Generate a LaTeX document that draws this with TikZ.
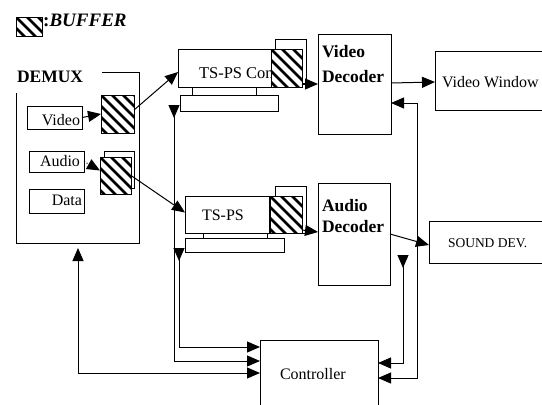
\documentclass[tikz,border=0pt]{standalone}
\usepackage{fontspec}
\setmainfont{Liberation Serif}
\usetikzlibrary{calc,arrows.meta}
\tikzset{
  box/.style={draw, line width=1pt, inner sep=0pt, outer sep=0pt, anchor=north west, fill=white},
  hatch/.style={box, path picture={
      \foreach \k in {-66,-55,...,44}
        \draw[line width=2.6pt] ([xshift=\k pt]path picture bounding box.north west)
          -- ([xshift=\k pt+80pt, yshift=-80pt]path picture bounding box.north west);}},
  tri/.tip={Triangle[length=13pt,width=11pt]},
  conn/.style={line width=1pt},
  arr/.style={conn, -tri},
  lbl/.style={inner sep=0pt, outer sep=0pt, anchor=base west, font=\fontsize{16}{18}\selectfont},
  lblr/.style={lbl, anchor=base east},
  title/.style={inner sep=0pt, outer sep=0pt, anchor=base west, font=\bfseries\fontsize{17.5}{20}\selectfont},
}
\begin{document}
\begin{tikzpicture}[x=1pt,y=-1pt]
\useasboundingbox (0,0) rectangle (542,405);

% legend
\node[hatch, minimum width=26pt, minimum height=19pt] (leg) at (16,17) {};
\node[inner sep=0pt, anchor=base west, font=\bfseries\fontsize{19}{22}\selectfont] (legl) at (43,26) {:\itshape BUFFER};

% DEMUX
\node[inner sep=0pt, outer sep=0pt, anchor=north west, minimum width=123pt, minimum height=171pt] (demux) at (16,72) {};
\draw[conn] ($(demux.north west)+(86,0)$) -- (demux.north east) -- (demux.south east) -- (demux.south west) -- ($(demux.north west)+(0,21)$);
\node[title] (demuxl) at (17,82) {DEMUX};

\node[box, minimum width=55pt, minimum height=23pt] (vidin) at (27,106) {};
\node[lblr] (vidinl) at (80,125) {Video};
\node[hatch, minimum width=33pt, minimum height=38pt] (vbuf) at (101,95) {};

\node[box, minimum width=55pt, minimum height=21pt] (audin) at (29,151) {};
\node[lblr] (audinl) at (80,166) {Audio};
\node[box, minimum width=30pt, minimum height=37pt] (abufb) at (104,151) {};
\node[hatch, minimum width=31pt, minimum height=37pt] (abuf) at (100,157) {};

\node[box, minimum width=55pt, minimum height=24pt] (data) at (29,189) {};
\node[lblr] (datal) at (82,205) {Data};

% video TS-PS converter
\node[box, minimum width=93pt, minimum height=38pt] (vts) at (178,49) {};
\node[lbl, font=\fontsize{16.5}{18}\selectfont] (vtsl) at (199,78) {TS-PS Con};
\node[box, minimum width=31pt, minimum height=44pt] (vtsbb) at (275,39) {};
\node[hatch, minimum width=31pt, minimum height=38pt] (vtsb) at (271,49) {};
\node[box, minimum width=98pt, minimum height=16pt] (vbar) at (180,95) {};
\draw[conn] ($(vts.south west)+(14,0)$) -- ($(vbar.north west)+(12,0)$);
\draw[conn] ($(vts.south west)+(78,0)$) -- ($(vbar.north west)+(76,0)$);

% video decoder
\node[box, minimum width=73pt, minimum height=100pt] (vdec) at (318,34) {};
\node[title] (vdecl1) at (322,57) {Video};
\node[title] (vdecl2) at (322,82) {Decoder};

\node[box, minimum width=130pt, minimum height=59pt] (vwin) at (435,51) {};
\node[lbl] (vwinl) at (442,87) {Video Window};

% audio TS-PS converter
\node[box, minimum width=84pt, minimum height=37pt] (ats) at (185,196) {};
\node[lbl] (atsl) at (202,220) {TS-PS};
\node[box, minimum width=31pt, minimum height=47pt] (atsbb) at (275,186) {};
\node[hatch, minimum width=32pt, minimum height=37pt] (atsb) at (270,196) {};
\node[box, minimum width=99pt, minimum height=14pt] (abar) at (185,238) {};
\draw[conn] ($(ats.south west)+(18,0)$) -- ($(abar.north west)+(18,0)$);
\draw[conn] ($(ats.south west)+(82,0)$) -- ($(abar.north west)+(82,0)$);

% audio decoder
\node[box, minimum width=72pt, minimum height=102pt] (adec) at (318,183) {};
\node[title] (adecl1) at (322,211) {Audio};
\node[title] (adecl2) at (322,232) {Decoder};

\node[box, minimum width=130pt, minimum height=42pt] (sound) at (429,221) {};
\node[lbl, font=\fontsize{13.5}{16}\selectfont] (soundl) at (448,247) {SOUND DEV.};

% controller
\node[box, minimum width=118pt, minimum height=80pt] (ctrl) at (260,340) {};
\node[lbl] (ctrll) at (280,379) {Controller};

% connectors
\draw[arr] (vidin.east) -- (vbuf.west);
\draw[arr, dotted] (audin.east) -- ($(abuf.west)+(0,-5)$);
\draw[arr] ($(vbuf.east)+(0,-4)$) -- ($(vts.west)+(0,4)$);
\draw[arr] (abuf.east) -- ($(ats.west)+(0,-2)$);
\draw[arr] ($(vtsb.south east)+(0,-3)$) -- ($(vdec.north west)+(0,50)$);
\draw[arr] ($(atsb.south east)+(0,-3)$) -- ($(adec.north west)+(0,49)$);
\draw[arr] ($(vdec.north east)+(0,49)$) -- ($(vwin.north west)+(0,31)$);
\draw[arr] (adec.east) -- ($(sound.north west)+(0,24)$);

\draw[conn, tri-tri] ($(vdec.north east)+(0,69)$) -- ++(26,0) |- ($(ctrl.north east)+(0,38)$);
\coordinate (ar) at ($(adec.north east)+(13,72)$);
\draw[conn, {tri[reversed]}-tri] (ar) |- ($(ctrl.north east)+(0,23)$);

\coordinate (vl) at ($(vbar.south west)+(-6,-6)$);
\draw[conn, {tri[reversed]}-tri] (vl) |- ($(ctrl.north west)+(0,21)$);
\coordinate (al) at ($(abar.south west)+(-6,-4)$);
\draw[conn, {tri[reversed]}-tri] (al) |- ($(ctrl.north west)+(0,7)$);
\draw[conn, tri-tri, shorten >=5pt] ($(ctrl.north west)+(0,33)$) -| ($(demux.south west)+(62,0)$);
\end{tikzpicture}
\end{document}
